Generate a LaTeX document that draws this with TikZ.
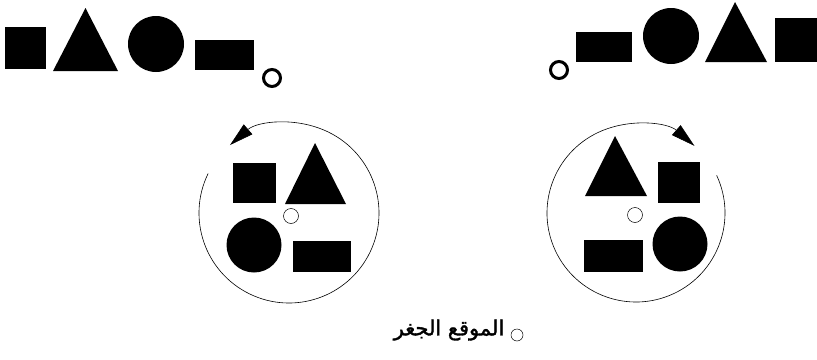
\documentclass[tikz,border=0pt]{standalone}
\usepackage{fontspec}
\newfontfamily\arabicfont[Script=Arabic,FakeBold=1.5]{DejaVu Sans}
\TeXXeTstate=1
\usetikzlibrary{arrows.meta}

\begin{document}
\begin{tikzpicture}[x=1pt, y=-1pt,
	% Define the styles for the shapes
	block/.style={rectangle, fill=black, inner sep=0},
	disc/.style={circle, fill=black, inner sep=0, minimum size=55pt},
	ring/.style={circle, draw, line width=3pt, inner sep=0, minimum size=17pt},
	pin/.style={circle, draw, line width=0.5pt, inner sep=0, minimum size=15pt},
	turn/.style={line width=0.6pt, -{Triangle[length=24pt,width=13pt]}}
	]
	\useasboundingbox (0,0) rectangle (817,359);
	
	% --- TOP LEFT ROW ---
	\node (sqA) at (25.5,48) [block, minimum width=41pt, minimum height=42pt] {};
	\fill (85.5,8) -- (118,71) -- (53,71) -- cycle;
	\node (cirA) at (156,44) [disc, minimum size=56pt] {};
	\node (recA) at (224.5,55) [block, minimum width=59pt, minimum height=30pt] {};
	\node (dotA) at (272,78) [ring] {};
	
	% --- TOP RIGHT ROW ---
	\node (dotB) at (559,70) [ring] {};
	\node (recB) at (604,47) [block, minimum width=56pt, minimum height=30pt] {};
	\node (cirB) at (671,36) [disc, minimum size=56pt] {};
	\fill (735,2) -- (767,62) -- (705,62) -- cycle;
	\node (sqB) at (797,40) [block, minimum width=44pt, minimum height=44pt] {};
	
	% --- LEFT TURN (counterclockwise) ---
	\coordinate (rotL) at (289,213);
	\draw[turn] (rotL) ++(-154:90) arc[start angle=-154, end angle=-491, radius=90];
	\node (sqC) at (254.5,183) [block, minimum width=43pt, minimum height=40pt] {};
	\fill (315,143) -- (346,204) -- (285,204) -- cycle;
	\node (dotC) at (291,216) [pin] {};
	\node (cirC) at (254,245) [disc] {};
	\node (recC) at (322,256.5) [block, minimum width=58pt, minimum height=31pt] {};
	
	% --- RIGHT TURN (clockwise) ---
	\coordinate (rotR) at (636,213);
	\draw[turn] (rotR) ++(-25:89) arc[start angle=-25, end angle=311, radius=89];
	\fill (615,136) -- (647,196) -- (585,196) -- cycle;
	\node (sqD) at (679,182.5) [block, minimum width=42pt, minimum height=41pt] {};
	\node (dotD) at (635,215) [pin] {};
	\node (recD) at (613.5,256) [block, minimum width=59pt, minimum height=32pt] {};
	\node (cirD) at (680,244) [disc] {};
	
	% --- LEGEND ---
	\node (dotE) at (517,335) [pin, minimum size=12pt] {};
	\node (label) at (449,330) [font=\fontsize{21}{25}\selectfont] {\arabicfont\beginR الموقع الجغر\endR};
	
\end{tikzpicture}
\end{document}
